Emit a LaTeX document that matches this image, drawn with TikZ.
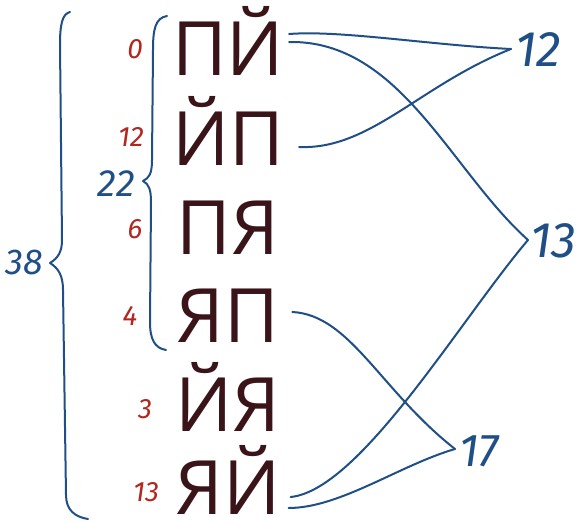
\documentclass[tikz,border=0pt]{standalone}
\usepackage{fontspec}
\usetikzlibrary{calc}
\setmainfont{Open Sans}
\newfontfamily\handfont{Fira Sans Italic}[ItalicFont=*]
\definecolor{ink}{HTML}{3A1419}
\definecolor{pen}{HTML}{1F4F86}
\definecolor{redpen}{HTML}{B2261E}
\tikzset{
  word/.style={inner sep=0pt, anchor=base, text depth=0pt, text=ink, font=\fontsize{75}{75}\selectfont},
  count/.style={inner sep=0pt, text=redpen, font=\handfont\fontsize{28}{28}\selectfont},
  total/.style={inner sep=0pt, text=pen, font=\handfont\fontsize{50}{50}\selectfont},
  wire/.style={draw=pen, line width=2pt, line cap=round, line join=round},
}
\begin{document}
\begin{tikzpicture}[x=1pt, y=-1pt]
\useasboundingbox (0,0) rectangle (576,522);

% the six two-letter words
\node[word] (w1) at (228,75) {ПЙ};
\node[word] (w2) at (228,165) {ЙП};
\node[word] (w3) at (228,254) {ПЯ};
\node[word] (w4) at (228,342) {ЯП};
\node[word] (w5) at (228,431) {ЙЯ};
\node[word] (w6) at (228,514) {ЯЙ};

% counts next to each word
\node[count] (c1) at (135,49) {0};
\node[count] (c2) at (131,137) {12};
\node[count] (c3) at (135,229) {6};
\node[count] (c4) at (130,316) {4};
\node[count] (c5) at (145,409) {3};
\node[count] (c6) at (146,492) {13};

% grouping braces and their sums
\draw[wire] (167,16) .. controls (155,18) and (153,30) .. (153,50)
  -- (152,160) .. controls (152,174) and (149,178) .. (143,181)
  .. controls (149,184) and (151,190) .. (151,202)
  -- (150,322) .. controls (150,340) and (155,348) .. (166,350);
\node[total, font=\handfont\fontsize{38}{38}\selectfont] (s22) at (116,184) {22};

\draw[wire] (70,12) .. controls (62,14) and (60,25) .. (60,45)
  -- (62,240) .. controls (62,252) and (58,258) .. (50,263)
  .. controls (58,268) and (63,275) .. (63,290)
  -- (66,495) .. controls (66,510) and (75,517) .. (88,519);
\node[total, font=\handfont\fontsize{36}{36}\selectfont] (s38) at (24,262) {38};

% hubs on the right
\coordinate (h12) at (511,49);
\coordinate (h13) at (528,240);
\coordinate (h17) at (455,449);
\node[total, anchor=west] (t12) at (515,50) {12};
\node[total, anchor=west] (t13) at (530,241) {13};
\node[total, anchor=west, font=\handfont\fontsize{46}{46}\selectfont] (t17) at (459,451) {17};

% connectors from words to hubs
\draw[wire] ($(w1.base east)+(5,-41)$) .. controls (340,30) and (430,45) .. (h12);
\draw[wire] ($(w1.base east)+(5,-33)$) .. controls (400,40) and (450,170) .. (h13);
\draw[wire] ($(w2.base east)+(15,-18)$) .. controls (370,150) and (420,85) .. (h12);
\draw[wire] ($(w4.base east)+(13,-30)$) .. controls (350,315) and (380,390) .. (h17);
\draw[wire] ($(w6.base east)+(10,-17)$) .. controls (360,490) and (460,320) .. (h13);
\draw[wire] ($(w6.base east)+(8,-6)$) .. controls (340,508) and (400,465) .. (h17);
\end{tikzpicture}
\end{document}
